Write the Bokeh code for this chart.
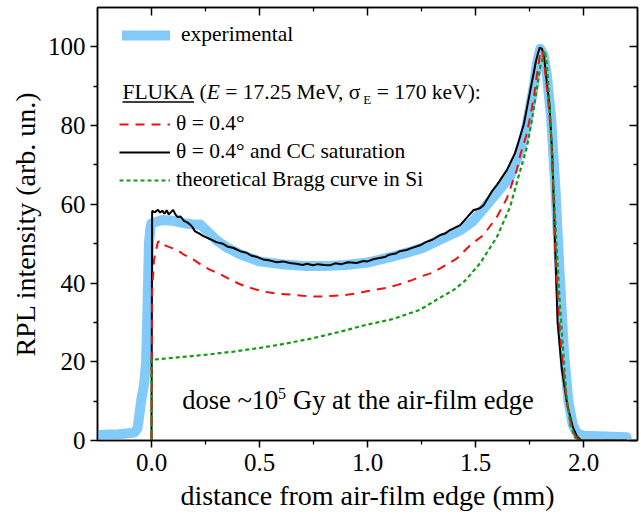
from bokeh.plotting import figure
from bokeh.models import (Range1d, LinearAxis, FixedTicker, Legend, LegendItem,
                          Label, BoxAnnotation)
from bokeh.embed import file_html
from bokeh.resources import INLINE

# ---------------- data ----------------
exp_x = [-0.25, -0.15, -0.08, -0.065, -0.055, -0.046, -0.035, -0.025, -0.018, -0.012,
         -0.005, 0.0, 0.05, 0.10, 0.15, 0.20, 0.225, 0.25, 0.30, 0.35, 0.41, 0.50,
         0.60, 0.72, 0.80, 0.90, 1.00, 1.10, 1.20, 1.26, 1.335, 1.43, 1.49, 1.552,
         1.60, 1.66, 1.707, 1.73, 1.75, 1.77, 1.785, 1.80, 1.815, 1.83, 1.85, 1.87,
         1.89, 1.91, 1.93, 1.95, 1.97, 2.00, 2.10, 2.20]
exp_y = [1.4, 1.6, 2.0, 3.0, 7.0, 10.8, 14.0, 20.0, 35.0, 50.0,
         54.0, 55.2, 56.0, 55.8, 55.2, 54.8, 54.9, 53.6, 50.9, 49.0, 47.3, 45.5,
         44.8, 44.3, 44.3, 44.6, 45.2, 46.5, 48.0, 49.0, 51.0, 53.4, 55.8, 59.8,
         63.0, 67.0, 73.8, 78.0, 84.0, 90.0, 96.0, 99.5, 98.0, 93.0, 82.0, 64.0,
         42.0, 22.0, 10.0, 4.0, 1.8, 1.2, 1.0, 0.8]

# FLUKA, theta = 0.4 deg (red dashed)
fl_x = [0.0, 0.003, 0.012, 0.03, 0.047, 0.054, 0.08, 0.116, 0.15, 0.193, 0.23, 0.27,
        0.32, 0.363, 0.41, 0.456, 0.50, 0.533, 0.58, 0.64, 0.70, 0.75, 0.795, 0.85,
        0.887, 0.95, 0.996, 1.04, 1.088, 1.13, 1.165, 1.21, 1.243, 1.30, 1.336,
        1.413, 1.475, 1.537, 1.599, 1.645, 1.691, 1.707, 1.735, 1.756, 1.772, 1.787,
        1.80, 1.808, 1.82, 1.835, 1.849, 1.86, 1.87, 1.89, 1.912, 1.93, 1.951, 1.97,
        1.99, 2.20]
fl_y = [0.0, 38.0, 46.0, 50.5, 50.6, 49.8, 49.2, 48.5, 47.2, 46.0, 44.6, 43.4,
        42.2, 40.9, 39.7, 38.8, 38.1, 37.7, 37.3, 37.1, 36.8, 36.6, 36.6, 36.8,
        36.9, 37.4, 37.9, 38.3, 38.8, 39.4, 40.0, 40.8, 41.6, 42.6, 43.7,
        46.2, 49.6, 52.2, 56.8, 61.5, 68.7, 72.5, 77.5, 82.9, 88.0, 93.9,
        98.5, 99.2, 95.0, 87.0, 78.6, 64.0, 47.0, 28.0, 15.0, 7.0, 2.3, 0.5,
        0.0, 0.0]

# FLUKA, theta = 0.4 deg and CC saturation (black)
cc_x = [0.0, 0.003, 0.015, 0.03, 0.04, 0.05, 0.06, 0.07, 0.08, 0.09, 0.10, 0.11,
        0.12, 0.135, 0.15, 0.165, 0.178, 0.19, 0.20, 0.22, 0.24, 0.27, 0.30, 0.33,
        0.35, 0.38, 0.41, 0.44, 0.46, 0.49, 0.517, 0.55, 0.58, 0.61, 0.64, 0.67,
        0.70, 0.72, 0.747, 0.77, 0.80, 0.826, 0.85, 0.88, 0.91, 0.95, 0.98, 1.00,
        1.03, 1.05, 1.08, 1.10, 1.13, 1.15, 1.18, 1.20, 1.243, 1.27, 1.30, 1.336,
        1.36, 1.38, 1.41, 1.429, 1.46, 1.49, 1.52, 1.538, 1.575, 1.60, 1.645,
        1.683, 1.70, 1.724, 1.74, 1.756, 1.77, 1.78, 1.79, 1.798, 1.808, 1.818,
        1.83, 1.842, 1.855, 1.867, 1.88, 1.90, 1.925, 1.95, 1.97, 1.99, 2.20]
cc_y = [0.0, 58.3, 58.0, 58.6, 57.9, 58.4, 57.6, 58.5, 57.4, 58.0, 58.6, 57.5,
        56.8, 56.9, 55.8, 55.4, 54.9, 54.2, 53.2, 52.6, 51.9, 51.2, 50.4, 50.0,
        49.3, 48.9, 48.1, 47.7, 47.0, 46.6, 46.0, 45.7, 45.3, 45.5, 45.1, 44.9,
        44.6, 44.9, 44.5, 44.8, 44.6, 44.5, 45.0, 44.8, 45.3, 45.1, 45.6, 45.5,
        46.1, 46.3, 46.6, 47.2, 47.5, 48.1, 48.4, 48.8, 49.6, 50.4, 51.0, 52.2,
        52.6, 53.4, 54.2, 54.7, 56.6, 58.5, 59.0, 59.8, 63.2, 65.0, 68.7,
        73.0, 76.0, 80.4, 85.0, 89.6, 93.5, 96.4, 98.5, 99.8, 99.5, 97.3,
        91.0, 85.4, 73.0, 53.0, 30.0, 18.0, 9.0, 3.5, 1.0, 0.0, 0.0]

# theoretical Bragg curve in Si (green dotted)
br_x = [0.0, 0.0, 0.10, 0.255, 0.38, 0.50, 0.62, 0.749, 0.87, 0.996, 1.12, 1.243,
        1.336, 1.398, 1.45, 1.521, 1.599, 1.66, 1.699, 1.738, 1.76, 1.78, 1.80,
        1.82, 1.83, 1.84, 1.849, 1.86, 1.872, 1.888, 1.905, 1.92, 1.94, 1.96, 1.98,
        2.20]
br_y = [0.0, 20.5, 21.0, 21.8, 22.6, 23.5, 24.6, 26.0, 27.6, 29.4, 30.9, 33.2,
        36.3, 38.2, 40.5, 45.0, 51.7, 59.3, 67.0, 74.5, 81.0, 88.0, 95.0,
        99.0, 96.0, 88.0, 78.6, 66.0, 53.0, 37.0, 23.5, 12.0, 3.9, 0.8, 0.0,
        0.0]

x_ticks = [0.0, 0.5, 1.0, 1.5, 2.0]
x_tick_labels = ["0.0", "0.5", "1.0", "1.5", "2.0"]
x_minor = [0.25, 0.75, 1.25, 1.75]
y_ticks = [0, 20, 40, 60, 80, 100]
y_tick_labels = ["0", "20", "40", "60", "80", "100"]
y_minor = [10, 30, 50, 70, 90]

FONT = "Liberation Serif"
BLUE = "#82CAF9"
RED = "#F01010"
GREEN = "#129A12"

# ---------------- figure ----------------
W, H = 641, 523
L, R, T, B = 97, 4, 7, 83
X0, X1, Y0, Y1 = -0.25, 2.25, 0.0, 110.0

p = figure(width=W, height=H, output_backend="svg", toolbar_location=None,
           x_range=Range1d(X0, X1), y_range=Range1d(Y0, Y1),
           min_border_left=L, min_border_right=R, min_border_top=T,
           min_border_bottom=B, x_axis_type=None, y_axis_type=None)
p.grid.visible = False
p.outline_line_color = "black"
p.outline_line_width = 1.5
p.background_fill_color = "white"
p.border_fill_color = "white"

fw, fh = W - L - R, H - T - B


def sx(px):
    return X0 + (px - L) * (X1 - X0) / fw


def sy(py):
    return Y0 + (T + fh - py) * (Y1 - Y0) / fh


xt = FixedTicker(ticks=x_ticks, minor_ticks=x_minor)
yt = FixedTicker(ticks=y_ticks, minor_ticks=y_minor)


def style(ax, outer, labels):
    ax.axis_line_width = 1.5
    ax.major_tick_line_width = 1.5
    ax.minor_tick_line_width = 1.3
    if outer:
        ax.major_tick_out, ax.major_tick_in = 7, 0
        ax.minor_tick_out, ax.minor_tick_in = 4, 0
    else:
        ax.major_tick_out, ax.major_tick_in = 0, 8
        ax.minor_tick_out, ax.minor_tick_in = 0, 4
    if labels:
        ax.major_label_text_font = FONT
        ax.major_label_text_font_size = "25px"
        ax.major_label_text_color = "black"
        ax.axis_label_text_font = FONT
        ax.axis_label_text_font_size = "28px"
        ax.axis_label_text_font_style = "normal"
        ax.axis_label_text_color = "black"
    else:
        ax.major_label_text_font_size = "1px"
        ax.major_label_text_color = None
        ax.major_label_text_alpha = 0
        ax.major_label_standoff = 0


xb = LinearAxis(ticker=xt, axis_label="distance from air-film edge (mm)",
                major_label_overrides=dict(zip(x_ticks, x_tick_labels)))
style(xb, True, True)
xb.major_label_standoff = 6
xb.axis_label_standoff = 6
p.add_layout(xb, "below")

yl = LinearAxis(ticker=yt, axis_label="RPL intensity (arb. un.)",
                major_label_overrides=dict(zip(y_ticks, y_tick_labels)))
style(yl, True, True)
yl.major_label_standoff = 5
yl.axis_label_standoff = 4
p.add_layout(yl, "left")

xa = LinearAxis(ticker=xt)
style(xa, False, False)
p.add_layout(xa, "above")
yr = LinearAxis(ticker=yt)
style(yr, False, False)
p.add_layout(yr, "right")

# ---------------- curves ----------------
r_exp = p.line(exp_x, exp_y, line_color=BLUE, line_width=10,
               line_join="round", line_cap="round")
r_cc = p.line(cc_x, cc_y, line_color="black", line_width=2)
r_fl = p.line(fl_x, fl_y, line_color=RED, line_width=2, line_dash="9 7")
r_br = p.line(br_x, br_y, line_color=GREEN, line_width=2.2, line_dash="4 3")

# ---------------- legends ----------------
def mk_legend(items, loc, gw, standoff, spacing):
    lg = Legend(items=items, location=loc, padding=0, margin=0,
                glyph_width=gw, glyph_height=20, label_height=20,
                label_standoff=standoff, spacing=spacing,
                label_text_font=FONT, label_text_font_size="21.5px",
                label_text_color="black",
                background_fill_alpha=0, border_line_alpha=0)
    return lg


ITEM_H = 25  # rendered height of one legend row
lg1 = mk_legend([LegendItem(label="experimental", renderers=[r_exp])],
                (122 - L, round(T + fh - (34.3 + ITEM_H / 2))), 48, 11, 0)
p.add_layout(lg1)

lg2 = mk_legend([LegendItem(label="θ = 0.4°", renderers=[r_fl]),
                 LegendItem(label="θ = 0.4° and CC saturation", renderers=[r_cc]),
                 LegendItem(label="theoretical Bragg curve in Si", renderers=[r_br])],
                (119 - L, round(T + fh - (180 + ITEM_H / 2))), 51, 6, 3)
p.add_layout(lg2)


def add_text(txt, px, base_py, size, style_="normal"):
    # place text so that its baseline sits at canvas row base_py
    p.add_layout(Label(x=sx(px), y=sy(base_py - 0.34 * size), text=txt,
                       text_font=FONT, text_font_size=f"{size}px",
                       text_font_style=style_, text_color="black",
                       text_baseline="middle"))


# legend header: FLUKA (E = 17.25 MeV, σE = 170 keV):
fs = 21.5
base = 99.0
add_text("FLUKA", 122.0, base, fs)
add_text("(", 199.1, base, fs)
add_text("E", 206.3, base, fs, "italic")
add_text("= 17.25 MeV, σ", 224.8, base, fs)
add_text("E", 362.8, base + 4.0, 13)
add_text("= 170 keV):", 376.2, base, fs)
p.add_layout(BoxAnnotation(left=sx(122), right=sx(193.5), top=sy(100.8),
                           bottom=sy(102.2), fill_color="black", fill_alpha=1,
                           line_alpha=0))

# dose annotation: dose ~10^5 Gy at the air-film edge
dbase = 408.3
add_text("dose ~10", 181.7, dbase, 26.5)
add_text("5", 277.5, dbase - 10.0, 16)
add_text("Gy at the air-film edge", 292.5, dbase, 26.5)

open("out.html", "w").write(file_html(p, INLINE))
